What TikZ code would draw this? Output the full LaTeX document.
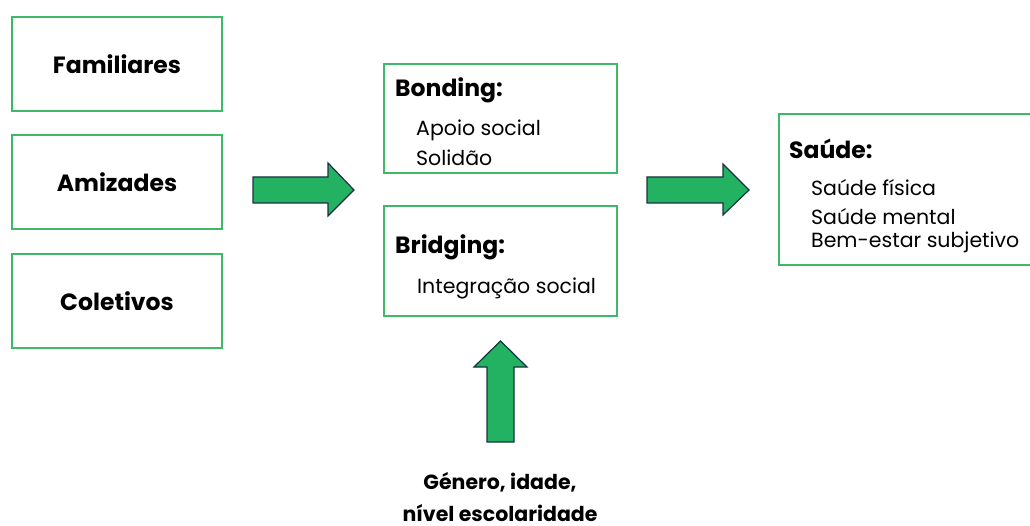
\documentclass[tikz,border=0pt]{standalone}
\usepackage{fontspec}
\setmainfont{Poppins}
\definecolor{boxgreen}{RGB}{60,185,105}
\definecolor{arrowfill}{RGB}{35,178,98}
\definecolor{arrowline}{RGB}{25,50,65}
\begin{document}
\begin{tikzpicture}[x=1pt,y=-1pt,
  box/.style={draw=boxgreen,line width=1.6pt,inner sep=0pt},
  head/.style={anchor=west,inner sep=0pt,font=\fontsize{23.5}{26}\selectfont\bfseries},
  item/.style={anchor=west,inner sep=0pt,font=\fontsize{20.5}{24}\selectfont},
  label/.style={inner sep=0pt,font=\fontsize{23.5}{26}\selectfont\bfseries},
  bottomlabel/.style={inner sep=0pt,font=\fontsize{20.5}{24}\selectfont\bfseries},
  blockarrow/.style={fill=arrowfill,draw=arrowline,line width=1.2pt,line join=miter}]
\useasboundingbox (0,0) rectangle (1030,526);
% left boxes
\node[box,minimum width=210pt,minimum height=94pt] (fam) at (117,64) {};
\node[label] (famt) at (117,64) {Familiares};
\node[box,minimum width=210pt,minimum height=94pt] (ami) at (117,182) {};
\node[label] (amit) at (117,182) {Amizades};
\node[box,minimum width=210pt,minimum height=94pt] (col) at (117,301) {};
\node[label] (colt) at (117,301) {Coletivos};
% middle boxes
\node[box,minimum width=233pt,minimum height=109pt] (bond) at (500.5,118.5) {};
\node[head] (bondt) at (395,90) {Bonding:};
\node[item] (bond1) at (416,130) {Apoio social};
\node[item] (bond2) at (416,158) {Solidão};
\node[box,minimum width=233pt,minimum height=110pt] (bridge) at (500.5,261) {};
\node[head] (bridget) at (395,247) {Bridging:};
\node[item] (bridge1) at (417,288) {Integração social};
% right box
\node[box,minimum width=252pt,minimum height=151pt] (saude) at (905,189.5) {};
\node[head] (saudet) at (789,149) {Saúde:};
\node[item] (s1) at (811,188) {Saúde física};
\node[item] (s2) at (811,217) {Saúde mental};
\node[item] (s3) at (811,242) {Bem-estar subjetivo};
% block arrows
\draw[blockarrow] (253,177) -- (328,177) -- (328,163) -- (354,190) -- (328,216) -- (328,203) -- (253,203) -- cycle;
\draw[blockarrow] (647,177) -- (723,177) -- (723,164) -- (749,190) -- (723,215) -- (723,203) -- (647,203) -- cycle;
\draw[blockarrow] (487,442) -- (487,367) -- (474,367) -- (500.5,341) -- (527,367) -- (514,367) -- (514,442) -- cycle;
% bottom text
\node[bottomlabel] (mod1) at (500,482) {Género, idade,};
\node[bottomlabel] (mod2) at (500,513) {nível escolaridade};
\end{tikzpicture}
\end{document}
